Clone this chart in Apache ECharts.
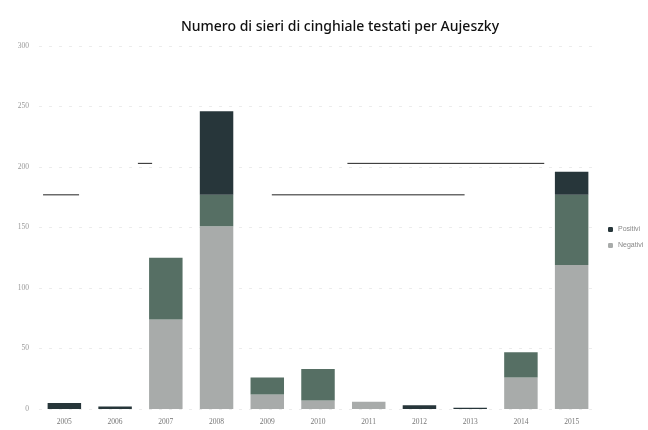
<!DOCTYPE html>
<html><head><meta charset="utf-8">
<script src="https://cdn.jsdelivr.net/npm/echarts@6/dist/echarts.min.js"></script>
<style>html,body{margin:0;padding:0;background:#fff}#c{width:648px;height:430px}</style>
</head><body><div id="c"></div>
<script>
const years = ['2005','2006','2007','2008','2009','2010','2011','2012','2013','2014','2015'];
const negativi = [0, 0, 74, 151, 12, 7, 6, 0, 0, 26, 119];
const middle   = [0, 0, 51, 26, 14, 26, 0, 0, 0, 21, 58];
const positivi = [5, 2, 0, 69, 0, 0, 0, 3, 1, 0, 19];
const yTicks = [0, 50, 100, 150, 200, 250, 300];
// stray horizontal strokes in the scan (category-index units, value units)
const strokeX0 = [-0.42, 1.45, 5.58, 4.09];
const strokeX1 = [0.29, 1.73, 9.46, 7.89];
const strokeY  = [177, 203, 203, 177];

const chart = echarts.init(document.getElementById('c'));
const strokeSeries = strokeY.map((y, i) => ({
  type: 'line', xAxisIndex: 1, symbol: 'none', silent: true,
  lineStyle: { color: '#222', width: 1 },
  data: [[strokeX0[i], y], [strokeX1[i], y]], z: 5
}));
chart.setOption({
  animation: false,
  title: { text: 'Numero di sieri di cinghiale testati per Aujeszky', left: 335, textAlign: 'center', top: 15,
    textStyle: { fontFamily: 'Noto Sans', fontSize: 14, fontWeight: 500, color: '#111' } },
  legend: { data: ['Positivi', 'Negativi'], orient: 'vertical', left: 603, top: 221, itemWidth: 5, itemHeight: 5, itemGap: 9,
    textStyle: { fontSize: 7, color: '#888', fontFamily: 'Liberation Sans' } },
  grid: { left: 39, right: 51, top: 46, bottom: 21 },
  xAxis: [{ type: 'category', data: years,
    axisLine: { show: false }, axisTick: { show: false },
    axisLabel: { fontSize: 7.5, color: '#777', margin: 9, fontFamily: 'Liberation Serif' } },
    { type: 'value', min: -0.5, max: 10.5, show: false }],
  yAxis: { type: 'value', min: 0, max: 300, interval: 50,
    axisLine: { show: false }, axisTick: { show: false },
    axisLabel: { fontSize: 7.5, color: '#999', margin: 10, fontFamily: 'Liberation Serif',
      formatter: v => yTicks.includes(v) ? String(v) : '' },
    splitLine: { lineStyle: { color: '#ececec', type: [3, 7], width: 1 } } },
  series: [
    { name: 'Negativi', type: 'bar', stack: 't', barWidth: '66%', data: negativi, itemStyle: { color: '#a8abaa' } },
    { name: 'Intermedi', type: 'bar', stack: 't', data: middle, itemStyle: { color: '#566f64' } },
    { name: 'Positivi', type: 'bar', stack: 't', data: positivi, itemStyle: { color: '#27363a' } },
    ...strokeSeries
  ]
});
</script></body></html>
